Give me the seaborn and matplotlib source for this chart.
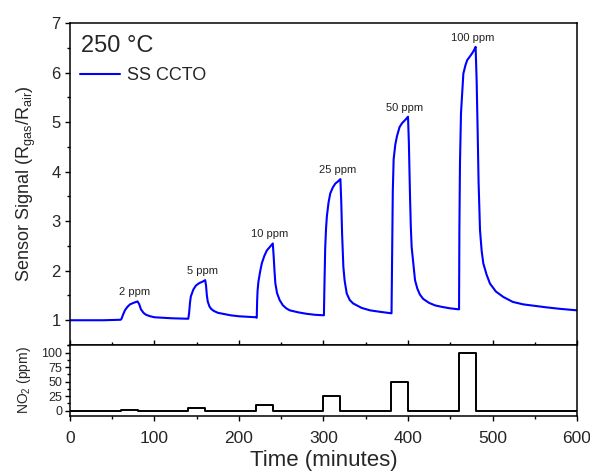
import numpy as np
import matplotlib
matplotlib.use("Agg")
import matplotlib.pyplot as plt
import seaborn as sns
from matplotlib.ticker import MultipleLocator

# Sensor response (time in minutes, Rgas/Rair)
time_min = [
    0, 20, 40, 60, 61, 63, 65, 68, 71, 75, 80, 82, 84, 87, 90, 95, 100, 110, 120, 130, 140,
    141, 142, 143, 146, 149, 153, 157, 160, 161, 162, 163, 165, 167, 170, 175, 184, 190, 200, 210, 220,
    221, 221.5, 222, 223, 225, 227, 230, 233, 236, 240, 241, 242, 243, 245, 248, 252, 256, 260, 270, 280, 290, 300,
    300.5, 301, 302, 303, 304, 306, 308, 311, 314, 317, 320, 321, 322, 323.5, 325, 327.5, 331, 335, 345, 355, 367, 380,
    380.5, 381, 382, 383, 385, 387, 390, 393, 397, 400, 401, 402.4, 403.3, 404.3, 406.3, 408.3, 411, 414, 418, 425, 432, 440, 450, 460,
    460.4, 460.8, 461.5, 462.7, 465.5, 468, 470, 473, 475.5, 478, 480, 481.2, 482.4, 483.5, 485.2, 487.1, 489.1, 493, 497,
    504, 512.8, 524, 536.5, 550, 564, 580, 600,
]
signal = [
    1.00, 1.00, 1.00, 1.01, 1.03, 1.12, 1.20, 1.27, 1.32, 1.35, 1.38, 1.32, 1.22, 1.15, 1.11, 1.08, 1.06, 1.05, 1.04, 1.035, 1.03,
    1.15, 1.35, 1.48, 1.62, 1.70, 1.75, 1.78, 1.81, 1.70, 1.50, 1.38, 1.28, 1.23, 1.19, 1.15, 1.12, 1.10, 1.08, 1.07, 1.06,
    1.05, 1.40, 1.60, 1.78, 1.98, 2.15, 2.30, 2.41, 2.47, 2.55, 2.30, 2.00, 1.75, 1.55, 1.41, 1.30, 1.24, 1.20, 1.16, 1.13, 1.11, 1.10,
    1.10, 1.60, 2.45, 2.85, 3.10, 3.38, 3.56, 3.68, 3.76, 3.80, 3.85, 3.40, 2.75, 2.08, 1.80, 1.54, 1.41, 1.34, 1.25, 1.20, 1.17, 1.14,
    1.14, 2.00, 3.60, 4.25, 4.55, 4.72, 4.90, 4.98, 5.05, 5.11, 4.60, 3.49, 2.90, 2.48, 2.15, 1.81, 1.64, 1.52, 1.43, 1.35, 1.30, 1.27, 1.24, 1.22,
    1.22, 2.82, 4.17, 5.18, 5.98, 6.15, 6.25, 6.32, 6.38, 6.45, 6.52, 5.85, 4.84, 3.80, 2.82, 2.41, 2.15, 1.92, 1.74,
    1.58, 1.47, 1.37, 1.32, 1.29, 1.26, 1.23, 1.20,
]

# NO2 concentration steps
step_time = [0, 60, 80, 140, 160, 220, 240, 300, 320, 380, 400, 460, 480, 600]
step_conc = [0, 2, 0, 5, 0, 10, 0, 25, 0, 50, 0, 100, 0, 0]

# peak labels
peak_time = [80, 160, 240, 320, 400, 480]
peak_value = [1.38, 1.81, 2.55, 3.85, 5.11, 6.52]
peak_labels = ["2 ppm", "5 ppm", "10 ppm", "25 ppm", "50 ppm", "100 ppm"]

sns.set_theme(style="ticks")
plt.rcParams["font.family"] = ["Liberation Sans", "DejaVu Sans"]
plt.rcParams["mathtext.fontset"] = "custom"
plt.rcParams["mathtext.rm"] = "Liberation Sans"
plt.rcParams["mathtext.it"] = "Liberation Sans"

fig = plt.figure(figsize=(5.9, 4.71), dpi=100)
ax1 = fig.add_axes([0.1186, 0.2675, 0.8594, 0.6835])
ax2 = fig.add_axes([0.1186, 0.1168, 0.8594, 0.1507], sharex=ax1)

sns.lineplot(x=time_min, y=signal, ax=ax1, color="#0000ff", linewidth=1.5,
             sort=False, estimator=None, label="SS CCTO")
sns.lineplot(x=step_time, y=step_conc, ax=ax2, color="black", linewidth=1.4,
             sort=False, estimator=None, drawstyle="steps-post")

for t, v, lab in zip(peak_time, peak_value, peak_labels):
    ax1.annotate(lab, xy=(t, v), xytext=(-3, 9), textcoords="offset pixels",
                 ha="center", va="center", fontsize=8, color="#222222")

ax1.text(0.022, 0.91, "250 °C", transform=ax1.transAxes, fontsize=17,
         va="baseline", ha="left")
ax1.legend(loc="upper left", bbox_to_anchor=(0.02, 0.864), frameon=False,
           borderpad=0, borderaxespad=0, handlelength=2.2, handletextpad=0.4,
           fontsize=13)

ax1.set_xlim(0, 600)
ax1.set_ylim(0.5, 7)
ax2.set_ylim(-9, 113)

ax1.yaxis.set_major_locator(MultipleLocator(1))
ax1.yaxis.set_minor_locator(MultipleLocator(0.5))
ax1.xaxis.set_major_locator(MultipleLocator(100))
ax1.xaxis.set_minor_locator(MultipleLocator(50))
ax2.yaxis.set_major_locator(MultipleLocator(25))
ax2.yaxis.set_minor_locator(MultipleLocator(12.5))

for ax in (ax1, ax2):
    for s in ax.spines.values():
        s.set_visible(True)
        s.set_linewidth(1.1)
        s.set_color("black")
    ax.tick_params(which="major", length=3.6, width=1.0, color="black")
    ax.tick_params(which="minor", length=2.3, width=1.0, color="black")

ax1.tick_params(axis="x", which="both", direction="in", labelbottom=False)
ax1.tick_params(axis="y", which="both", direction="out", labelsize=12, pad=3)
ax2.tick_params(axis="x", which="both", direction="out", labelsize=12.5, pad=7)
ax2.tick_params(axis="y", which="both", direction="out", labelsize=9, pad=2)

ax1.set_ylabel("Sensor Signal (R$_{gas}$/R$_{air}$)", fontsize=13)
ax1.yaxis.set_label_coords(-0.064, 0.5)
ax2.set_ylabel("NO$_2$ (ppm)", fontsize=10)
ax2.yaxis.set_label_coords(-0.073, 0.5)
ax2.set_xlabel("Time (minutes)", fontsize=16, labelpad=3)
ax1.set_xlabel("")

fig.savefig("out.png", dpi=100)
